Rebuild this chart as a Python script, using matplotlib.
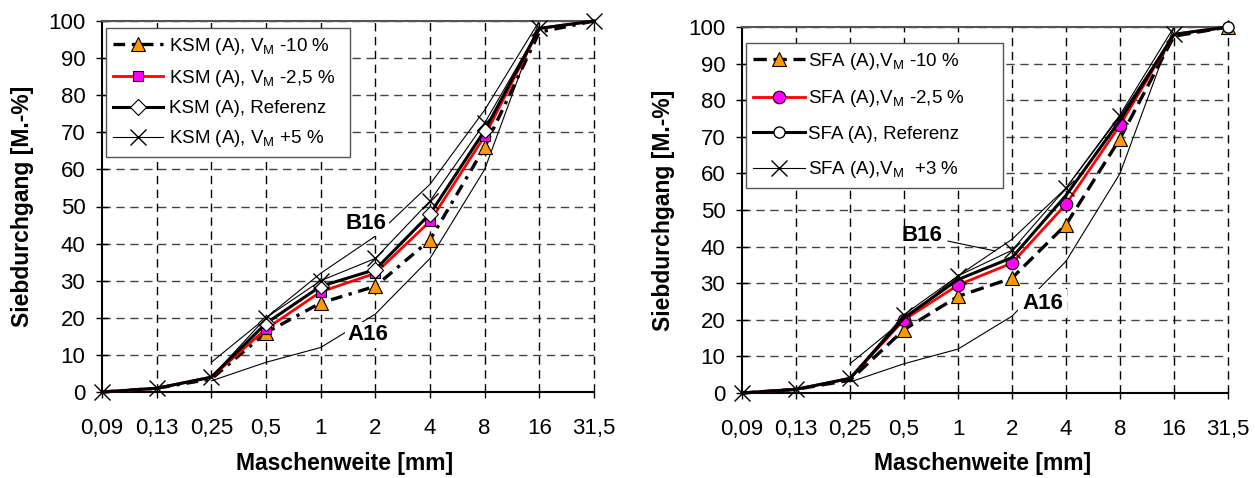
import numpy as np
import matplotlib
matplotlib.use('Agg')
import matplotlib.pyplot as plt

plt.rcParams['font.family'] = ['Liberation Sans', 'DejaVu Sans']
plt.rcParams['mathtext.fontset'] = 'custom'
plt.rcParams['mathtext.rm'] = 'Liberation Sans'
plt.rcParams['mathtext.it'] = 'Liberation Sans'

nan = np.nan
categories = ['0,09', '0,13', '0,25', '0,5', '1', '2', '4', '8', '16', '31,5']

# KSM (left chart)
ksm_m10 = [0, 1, 3.5, 16, 24, 28.5, 41, 66, 97, 100]
ksm_m25 = [0, 1, 4, 17, 27, 32, 46, 69, 98, 100]
ksm_ref = [0, 1, 4, 18.5, 28.5, 33, 48, 70.5, 98, 100]
ksm_p5 = [0, 1, 4, 20, 30, 36, 51.5, 72.5, 98, 100]

# SFA (right chart)
sfa_m10 = [0, 1, 3.5, 17.3, 26.4, 31.4, 46, 69.5, 97.5, 100]
sfa_m25 = [0, 1, 4, 20, 29.5, 35.5, 51.6, 73.2, 98, 100]
sfa_ref = [0, 1, 4, 20.5, 31, 37, 54, 74.5, 98, 100]
sfa_p3 = [0, 1, 4, 21.4, 32, 39, 56, 75.6, 98, nan]

# grading limit curves
a16 = [nan, nan, 3, 8, 12, 21, 36, 60, 100, 100]
b16 = [nan, nan, 8, 20, 32, 42, 56, 76, 100, 100]

ksm_labels = [r'KSM (A), V$_\mathregular{M}$ -10 %', r'KSM (A), V$_\mathregular{M}$ -2,5 %',
              'KSM (A), Referenz', r'KSM (A), V$_\mathregular{M}$ +5 %']
sfa_labels = [r'SFA (A),V$_\mathregular{M}$ -10 %', r'SFA (A),V$_\mathregular{M}$ -2,5 %',
              'SFA (A), Referenz', r'SFA (A),V$_\mathregular{M}$  +3 %']

W, H = 1255, 478
fig = plt.figure(figsize=(W / 100, H / 100), dpi=100)
ax1 = fig.add_axes([102 / W, 1 - 392 / H, 492 / W, 371 / H])
ax2 = fig.add_axes([742 / W, 1 - 393 / H, 486 / W, 366 / H])

ORANGE = '#FF9900'
MAGENTA = '#FF00FF'
MID = [3, 4, 5, 6, 7]


def setup(ax):
    x = np.arange(len(categories))
    ax.set_xlim(0, len(categories) - 1)
    ax.set_ylim(0, 100)
    ax.set_xticks(x)
    ax.set_xticklabels(categories)
    ax.set_yticks(np.arange(0, 101, 10))
    ax.tick_params(axis='y', direction='inout', length=8, width=1, labelsize=16, pad=8)
    ax.tick_params(axis='x', direction='out', length=4, width=1, labelsize=16, pad=15)
    for yv in range(10, 101, 10):
        ax.axhline(yv, color='#444444', lw=1, ls=(0, (6, 4)), zorder=1)
    for xv in x[1:]:
        ax.axvline(xv, color='black', lw=1, ls=(0, (6, 4)), zorder=1, clip_on=False)
    ax.spines['left'].set_linewidth(1.5)
    ax.spines['bottom'].set_linewidth(1.5)
    ax.spines['top'].set_linewidth(1.5)
    ax.spines['top'].set_color('#555555')
    ax.spines['right'].set_visible(False)
    ax.set_xlabel('Maschenweite [mm]', fontsize=16.5, fontweight='bold')
    ax.set_ylabel('Siebdurchgang [M.-%]', fontsize=16.5, fontweight='bold')
    ax.yaxis.set_label_coords(-0.138, 0.5)
    ax.xaxis.set_label_coords(0.494, -0.162)
    return x


# ---------- left chart ----------
x = setup(ax1)
ax1.plot(x, a16, color='black', lw=0.8, zorder=2)
ax1.plot(x, b16, color='black', lw=0.8, zorder=2)
h1, = ax1.plot(x, ksm_m10, color='black', lw=2.4, ls=(0, (3.5, 2, 1, 2)), marker='^', ms=10,
               mfc=ORANGE, mec='black', mew=0.8, zorder=5, clip_on=False, markevery=MID)
h2, = ax1.plot(x, ksm_m25, color='red', lw=2, marker='s', ms=7, mfc=MAGENTA, mec='black',
               mew=0.8, zorder=6, clip_on=False, markevery=MID)
h3, = ax1.plot(x, ksm_ref, color='black', lw=2.2, marker='D', ms=8, mfc='white', mec='black',
               mew=0.8, zorder=7, clip_on=False, markevery=MID)
h4, = ax1.plot(x, ksm_p5, color='black', lw=0.8, marker='x', ms=11, mew=1, zorder=8,
               clip_on=False)
ax1.text(4.83, 45.5, 'B16', fontsize=16, fontweight='bold', ha='center', va='center',
         bbox=dict(facecolor='white', edgecolor='none', pad=2), zorder=3)
ax1.text(4.86, 15.4, 'A16', fontsize=16, fontweight='bold', ha='center', va='center',
         bbox=dict(facecolor='white', edgecolor='none', pad=2), zorder=3)
leg1 = ax1.legend([h1, h2, h3, h4], ksm_labels, loc='upper left',
                  bbox_to_anchor=(0.008, 0, 0.496, 0.981), mode='expand', borderaxespad=0,
                  fontsize=13.5, numpoints=1, handlelength=2.67, handletextpad=0.3,
                  borderpad=0.4, labelspacing=0.6, fancybox=False, framealpha=1,
                  edgecolor='#555555')
leg1.get_frame().set_linewidth(1)
leg1.set_zorder(10)

# ---------- right chart ----------
x = setup(ax2)
ax2.plot(x, a16, color='black', lw=0.8, zorder=2)
ax2.plot(x, b16, color='black', lw=0.8, zorder=2)
g1, = ax2.plot(x, sfa_m10, color='black', lw=2.4, ls=(0, (4, 2)), marker='^', ms=10,
               mfc=ORANGE, mec='black', mew=0.8, zorder=5, clip_on=False,
               markevery=MID + [9])
g2, = ax2.plot(x, sfa_m25, color='red', lw=2, marker='o', ms=9, mfc=MAGENTA, mec='black',
               mew=0.8, zorder=6, clip_on=False, markevery=MID)
g4, = ax2.plot(x, sfa_p3, color='black', lw=0.8, marker='x', ms=11, mew=1, zorder=8,
               clip_on=False)
g3, = ax2.plot(x, sfa_ref, color='black', lw=2.2, marker='o', ms=8, mfc='white', mec='black',
               mew=1, zorder=7, clip_on=False, markevery=[9])
ax2.annotate('B16', xy=(4.69, 38.8), xytext=(3.33, 43), fontsize=16, fontweight='bold',
             ha='center', va='center', zorder=3,
             arrowprops=dict(arrowstyle='-', color='black', lw=0.8, shrinkA=2, shrinkB=0))
ax2.text(5.57, 24.5, 'A16', fontsize=16, fontweight='bold', ha='center', va='center',
         bbox=dict(facecolor='white', edgecolor='none', pad=3), zorder=3)
leg2 = ax2.legend([g1, g2, g3, g4], sfa_labels, loc='upper left',
                  bbox_to_anchor=(0.008, 0, 0.529, 0.956), mode='expand', borderaxespad=0,
                  fontsize=13.5, numpoints=1, handlelength=2.77, handletextpad=0.15,
                  borderpad=0.4, labelspacing=0.88, fancybox=False, framealpha=1,
                  edgecolor='#555555')
leg2.get_frame().set_linewidth(1)
leg2.set_zorder(10)

fig.savefig('out.png', dpi=100)
